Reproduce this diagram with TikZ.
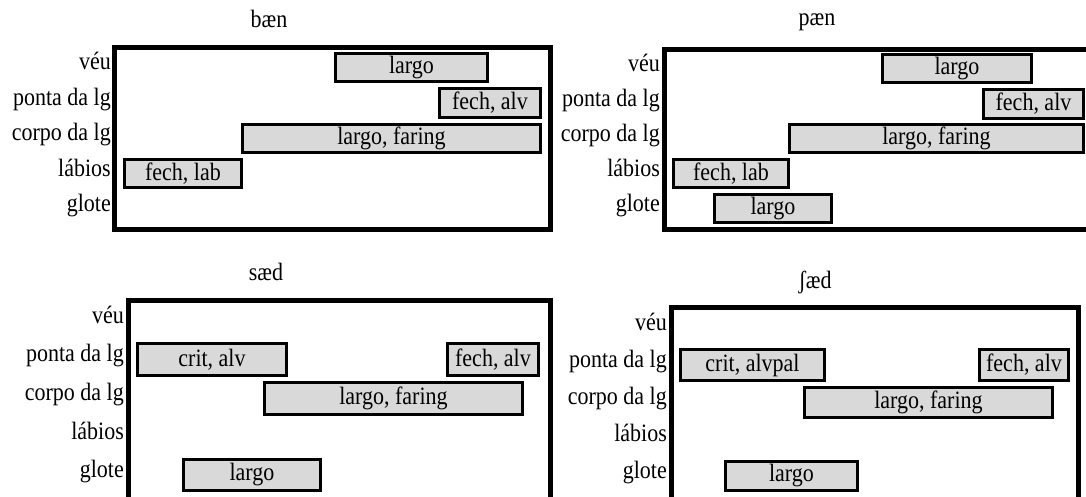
\documentclass[tikz,border=0pt]{standalone}
\usepackage{fontspec}
\setmainfont[FakeStretch=0.88]{Liberation Serif}
\usetikzlibrary{positioning}

\tikzset{
    panel/.style={line width=5pt},
    gesture/.style={draw, line width=3pt, fill=gray!30, inner sep=0pt},
    tier/.style={anchor=east, inner sep=0pt, text height=0.7em, text depth=0.25em},
    word/.style={inner sep=0pt}
}

\begin{document}
\begin{tikzpicture}[x=1pt, y=-1pt, font=\fontsize{25}{29}\selectfont]
    \clip (0,0) rectangle (1086,496);

    % bæn
    \node[word] (t1) at (269,19) {bæn};
    \draw[panel] (114.5,47.5) rectangle (550.5,229.5);
    \node[tier] (v1) at (111,67.5) {véu};
    \node[tier] (p1) at (111,103) {ponta da lg};
    \node[tier] (c1) at (111,138.5) {corpo da lg};
    \node[tier] (l1) at (111,174) {lábios};
    \node[tier] (g1) at (111,209.5) {glote};
    \node[gesture, minimum width=152pt, minimum height=28pt] (v1a) at (411.5,67.5) {largo};
    \node[gesture, minimum width=101pt, minimum height=29pt] (p1a) at (490,103) {fech, alv};
    \node[gesture, minimum width=298pt, minimum height=28pt] (c1a) at (391.5,138.5) {largo, faring};
    \node[gesture, minimum width=117pt, minimum height=28pt] (l1a) at (183,173.5) {fech, lab};

    % pæn
    \node[word] (t2) at (817,22.5) {pæn};
    \draw[panel] (664,49) rectangle (1092,229.5);
    \node[tier] (v2) at (660,69.5) {véu};
    \node[tier] (p2) at (660,104.5) {ponta da lg};
    \node[tier] (c2) at (660,139.5) {corpo da lg};
    \node[tier] (l2) at (660,174.5) {lábios};
    \node[tier] (g2) at (660,209.5) {glote};
    \node[gesture, minimum width=149pt, minimum height=28pt] (v2a) at (957,68.5) {largo};
    \node[gesture, minimum width=100pt, minimum height=29pt] (p2a) at (1033.5,104) {fech, alv};
    \node[gesture, minimum width=294pt, minimum height=28pt] (c2a) at (936.5,138.5) {largo, faring};
    \node[gesture, minimum width=115pt, minimum height=28pt] (l2a) at (731,173.5) {fech, lab};
    \node[gesture, minimum width=117pt, minimum height=28pt] (g2a) at (773,208.5) {largo};

    % sæd
    \node[word] (t3) at (266,272) {sæd};
    \draw[panel] (128,300) rectangle (550.5,499);
    \node[tier] (v3) at (124,321) {véu};
    \node[tier] (p3) at (124,359.5) {ponta da lg};
    \node[tier] (c3) at (124,398.5) {corpo da lg};
    \node[tier] (l3) at (124,437) {lábios};
    \node[tier] (g3) at (124,475) {glote};
    \node[gesture, minimum width=149pt, minimum height=32pt] (p3a) at (212,359.5) {crit, alv};
    \node[gesture, minimum width=91pt, minimum height=32pt] (p3b) at (493,359.5) {fech, alv};
    \node[gesture, minimum width=258pt, minimum height=32pt] (c3a) at (393.5,398.5) {largo, faring};
    \node[gesture, minimum width=137pt, minimum height=31pt] (g3a) at (252,475) {largo};

    % ʃæd
    \node[word] (t4) at (815,283) {ʃæd};
    \draw[panel] (671,307) rectangle (1078,499);
    \node[tier] (v4) at (667,328) {véu};
    \node[tier] (p4) at (667,365) {ponta da lg};
    \node[tier] (c4) at (667,402.5) {corpo da lg};
    \node[tier] (l4) at (667,439.5) {lábios};
    \node[tier] (g4) at (667,476) {glote};
    \node[gesture, minimum width=144pt, minimum height=31pt] (p4a) at (752.5,365) {crit, alvpal};
    \node[gesture, minimum width=89pt, minimum height=31pt] (p4b) at (1024,365) {fech, alv};
    \node[gesture, minimum width=248pt, minimum height=30pt] (c4a) at (928.5,402.5) {largo, faring};
    \node[gesture, minimum width=132pt, minimum height=29pt] (g4a) at (791.5,476) {largo};
\end{tikzpicture}
\end{document}
